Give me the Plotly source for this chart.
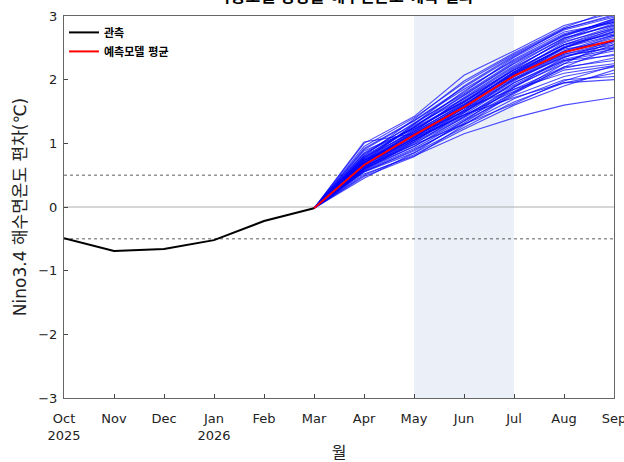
import plotly.graph_objects as go

months = ["Oct<br>2025", "Nov", "Dec", "Jan<br>2026", "Feb", "Mar",
          "Apr", "May", "Jun", "Jul", "Aug", "Sep"]

# observed anomaly Oct..Mar
obs_x = [0, 1, 2, 3, 4, 5]
obs_y = [-0.49, -0.69, -0.66, -0.52, -0.22, -0.02]

# forecast months Mar..Sep
fc_x = [5, 6, 7, 8, 9, 10, 11]
mean_y = [-0.02, 0.66, 1.13, 1.57, 2.06, 2.43, 2.62]

# ensemble members (Apr..Sep), each starts from the last observation
members = [
    [1.02, 1.15, 1.60, 2.10, 2.50, 2.75],
    [1.00, 1.42, 2.07, 2.45, 2.85, 3.05],
    [0.95, 1.40, 1.95, 2.40, 2.80, 3.00],
    [0.90, 1.35, 1.85, 2.30, 2.70, 2.95],
    [0.85, 1.30, 1.80, 2.35, 2.75, 2.90],
    [0.80, 1.25, 1.75, 2.25, 2.65, 2.85],
    [0.78, 1.28, 1.70, 2.20, 2.60, 2.80],
    [0.75, 1.20, 1.68, 2.15, 2.55, 2.78],
    [0.72, 1.22, 1.65, 2.18, 2.62, 2.88],
    [0.70, 1.18, 1.62, 2.10, 2.50, 2.70],
    [0.70, 1.15, 1.58, 2.05, 2.45, 2.65],
    [0.68, 1.12, 1.55, 2.08, 2.48, 2.60],
    [0.66, 1.10, 1.52, 2.00, 2.40, 2.55],
    [0.65, 1.08, 1.50, 1.98, 2.38, 2.50],
    [0.64, 1.14, 1.60, 2.12, 2.55, 2.72],
    [0.63, 1.05, 1.45, 1.95, 2.30, 2.45],
    [0.62, 1.02, 1.42, 1.90, 2.25, 2.40],
    [0.60, 1.00, 1.40, 1.85, 2.20, 2.30],
    [0.60, 0.98, 1.48, 2.02, 2.42, 2.68],
    [0.58, 0.95, 1.38, 1.80, 2.15, 2.25],
    [0.57, 0.92, 1.35, 1.75, 2.05, 2.20],
    [0.55, 0.90, 1.30, 1.70, 2.00, 2.05],
    [0.55, 0.85, 1.25, 1.65, 1.95, 2.10],
    [0.52, 0.80, 1.15, 1.40, 1.60, 1.72],
    [0.50, 0.82, 1.22, 1.60, 1.90, 2.15],
    [0.48, 0.79, 1.28, 1.78, 2.20, 2.50],
    [0.45, 0.85, 1.35, 1.88, 2.35, 2.62],
    [0.72, 1.30, 1.90, 2.38, 2.78, 2.98],
    [0.76, 1.25, 1.82, 2.32, 2.72, 2.92],
    [0.82, 1.32, 1.78, 2.28, 2.68, 2.96],
    [0.68, 1.18, 1.72, 2.22, 2.66, 2.86],
    [0.74, 1.10, 1.55, 2.00, 2.35, 2.58],
    [0.66, 1.05, 1.48, 1.95, 2.32, 2.48],
    [0.62, 1.08, 1.58, 2.12, 2.50, 2.75],
    [0.70, 1.20, 1.70, 2.15, 2.55, 2.82],
    [0.78, 1.18, 1.62, 2.05, 2.40, 2.60],
    [0.88, 1.22, 1.65, 2.08, 2.45, 2.70],
    [0.64, 0.98, 1.30, 1.62, 1.98, 2.22],
    [0.60, 0.95, 1.42, 1.88, 2.28, 2.55],
    [0.70, 1.12, 1.50, 1.92, 2.30, 2.38],
    [0.58, 1.02, 1.52, 2.05, 2.50, 2.80],
    [0.80, 1.38, 1.98, 2.42, 2.82, 3.10],
    [0.74, 1.15, 1.55, 1.85, 2.10, 2.22],
    [0.66, 1.08, 1.45, 1.72, 1.95, 2.00],
    [0.56, 0.88, 1.32, 1.80, 2.25, 2.62],
    [0.92, 1.36, 1.88, 2.36, 2.80, 3.02],
    [0.84, 1.24, 1.66, 2.12, 2.58, 2.84],
    [0.69, 1.16, 1.64, 2.16, 2.64, 2.94],
    [0.73, 1.06, 1.44, 1.82, 2.18, 2.34],
    [0.61, 1.04, 1.56, 2.08, 2.52, 2.76],
    [0.77, 1.26, 1.76, 2.26, 2.70, 2.90],
    [0.67, 1.13, 1.60, 2.02, 2.36, 2.52],
]

y_ticks = [-3, -2, -1, 0, 1, 2, 3]
threshold = 0.5
shade_from, shade_to = 7, 9   # May..Jul

FONT = "DejaVu Sans, Noto Sans CJK KR, sans-serif"

fig = go.Figure()

for m in members:
    fig.add_trace(go.Scatter(
        x=fc_x, y=[obs_y[-1]] + m, mode="lines",
        line=dict(color="rgba(0,0,255,0.7)", width=1.1),
        showlegend=False, hoverinfo="skip"))

fig.add_trace(go.Scatter(x=obs_x, y=obs_y, mode="lines", name="<b>관측</b>",
                         line=dict(color="black", width=2)))
fig.add_trace(go.Scatter(x=fc_x, y=mean_y, mode="lines", name="<b>예측모델 평균</b>",
                         line=dict(color="red", width=2)))

fig.add_vrect(x0=shade_from, x1=shade_to, fillcolor="#EBF0F8", line_width=0, layer="below")
for v in (threshold, -threshold):
    fig.add_hline(y=v, line=dict(color="#333", width=0.8, dash="dot"), layer="below")
fig.add_hline(y=0, line=dict(color="#999", width=0.8), layer="below")

fig.add_annotation(text="<b>다중모델 앙상블 해수면온도 예측 결과</b>", xref="paper", yref="paper",
                   x=0.51, y=1, yanchor="bottom", yshift=8, showarrow=False,
                   font=dict(size=16, color="black", family=FONT))

fig.update_layout(
    width=624, height=462,
    margin=dict(l=64, r=10, t=16, b=64, autoexpand=False),
    paper_bgcolor="white", plot_bgcolor="white",
    font=dict(family=FONT, size=13, color="#222"),
    legend=dict(x=0.0, y=0.995, xanchor="left", yanchor="top",
                bgcolor="rgba(0,0,0,0)", font=dict(size=11, color="black"),
                itemwidth=30, tracegroupgap=2),
)
fig.update_xaxes(range=[0, 11], tickvals=list(range(12)), ticktext=months,
                 ticks="inside", ticklen=4, tickcolor="#444", automargin=False,
                 ticklabeloverflow="allow", ticklabelstandoff=8,
                 showgrid=False, zeroline=False,
                 showline=True, linecolor="#666", linewidth=1, mirror=True,
                 title=dict(text="월", font=dict(size=16), standoff=6))
fig.update_yaxes(range=[-3, 3], tickvals=y_ticks, automargin=False,
                 ticks="inside", ticklen=4, tickcolor="#444", ticklabelstandoff=3,
                 showgrid=False, zeroline=False,
                 showline=True, linecolor="#666", linewidth=1, mirror=True,
                 title=dict(text="Nino3.4 해수면온도 편차(℃)", font=dict(size=17), standoff=7))

fig.write_html("out.html", config={"displayModeBar": False},
               post_script="document.body.style.margin='0';")
